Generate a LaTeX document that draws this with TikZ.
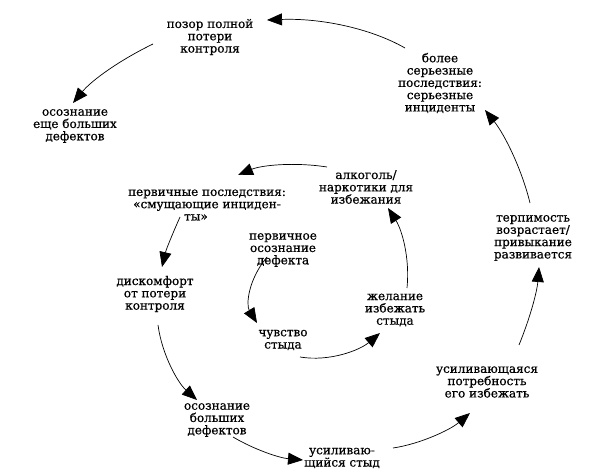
\documentclass[tikz,border=0pt]{standalone}
\usepackage{fontspec}
\setmainfont{DejaVu Serif}
\usetikzlibrary{arrows.meta,calc}
\begin{document}
\begin{tikzpicture}[x=1pt,y=-1pt,
  lbl/.style={align=center,font=\fontsize{12}{12.3}\selectfont\addfontfeatures{FakeBold=0.6},inner sep=0pt},
  arr/.style={-{Triangle[length=15pt,width=12pt]},line width=0.7pt}]
\useasboundingbox (0,0) rectangle (597,476);
\fill[white] (0,0) rectangle (597,476);
% nodes
\node[lbl] (pozor)   at (210,37)  {позор полной\\потери\\контроля};
\node[lbl] (esche)   at (75,126)  {осознание\\еще больших\\дефектов};
\node[lbl] (bolee)   at (440,83)  {более\\серьезные\\последствия:\\серьезные\\инциденты};
\node[lbl] (terp)    at (533,238) {терпимость\\возрастает/\\привыкание\\развивается};
\node[lbl] (potreb)  at (487,382) {усиливающаяся\\потребность\\его избежать};
\node[lbl] (styd2)   at (342,458) {усиливаю-\\щийся стыд};
\node[lbl] (bolsh)   at (217,420) {осознание\\больших\\дефектов};
\node[lbl] (diskomf) at (155,294) {дискомфорт\\от потери\\контроля};
\node[lbl] (perv)    at (207,205) {первичные последствия:\\«смущающие инциден-\\\hbox{ты»}\hspace*{22pt}};
\node[lbl] (alk)     at (366,187) {алкоголь/\\наркотики для\\избежания};
\node[lbl] (zhel)    at (395,310) {желание\\избежать\\стыда};
\node[lbl] (chuv)    at (283,340) {чувство\\стыда};
\node[lbl] (pervos)  at (283,250) {первичное\\осознание\\дефекта};
% outer spiral
\draw[arr] ($(bolee)+(-35,-35)$) .. controls (370,28) and (320,18) .. ($(pozor)+(57,-17)$);
\draw[arr] ($(pozor)+(-57,7)$) .. controls (120,60) and (92,80) .. ($(esche)+(-2,-23)$);
\draw[arr] ($(terp)+(-3,-35)$) .. controls (522,170) and (505,135) .. ($(bolee)+(45,27)$);
\draw[arr] ($(potreb)+(32,-37)$) .. controls (530,318) and (537,292) .. ($(terp)+(6,29)$);
\draw[arr] ($(styd2)+(51,-10)$) .. controls (420,444) and (450,430) .. ($(potreb)+(-17,31)$);
\draw[arr] ($(bolsh)+(16,17)$) .. controls (255,450) and (280,458) .. ($(styd2)+(-39,2)$);
\draw[arr] ($(diskomf)+(3,31)$) .. controls (162,355) and (178,383) .. ($(bolsh)+(-20,-20)$);
\draw[arr] ($(perv)+(-27,12)$) .. controls (172,235) and (166,250) .. ($(diskomf)+(7,-27)$);
\draw[arr] ($(alk)+(-39,-20)$) .. controls (295,162) and (262,165) .. ($(perv)+(31,-30)$);
% inner loop
\draw[arr] ($(zhel)+(12,-22)$) .. controls (410,258) and (402,230) .. ($(alk)+(22,21)$);
\draw[arr] ($(chuv)+(17,17)$) .. controls (330,362) and (360,350) .. ($(zhel)+(-15,23)$);
\draw[arr] ($(pervos)+(-16,7)$) .. controls (248,280) and (246,305) .. ($(chuv)+(-26,-17)$);
\end{tikzpicture}
\end{document}
